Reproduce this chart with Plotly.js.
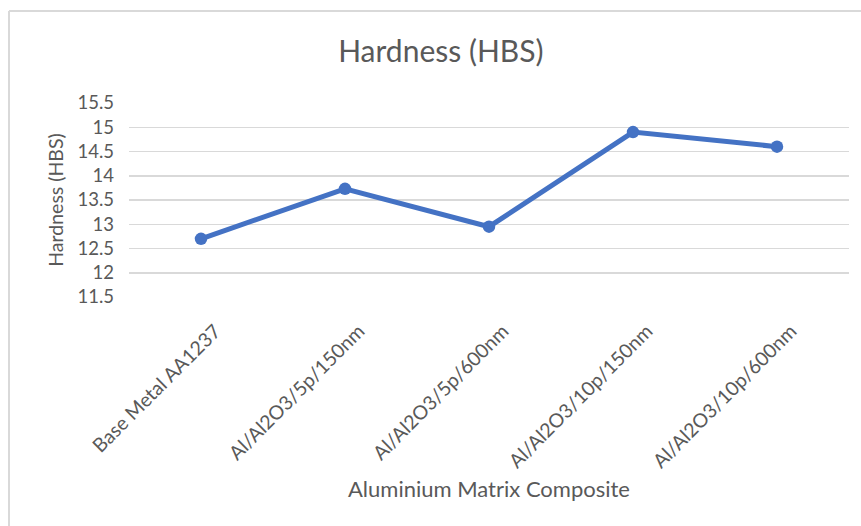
<!DOCTYPE html>
<html>
<head>
<meta charset="utf-8">
<script src="https://cdn.plot.ly/plotly-3.0.1.min.js"></script>
<style>html,body{margin:0;padding:0;background:#fff;}#chart{width:861px;height:526px;}</style>
</head>
<body>
<div id="chart"></div>
<script>
const categories = ["Base Metal AA1237", "Al/Al2O3/5p/150nm", "Al/Al2O3/5p/600nm", "Al/Al2O3/10p/150nm", "Al/Al2O3/10p/600nm"];
const hardness = [12.7, 13.73, 12.95, 14.9, 14.6];
const yTicks = [11.5, 12, 12.5, 13, 13.5, 14, 14.5, 15, 15.5];
const yTickText = ["11.5", "12", "12.5", "13", "13.5", "14", "14.5", "15", "15.5"];

const fontFam = "Lato, 'Open Sans', 'Liberation Sans', sans-serif";
const textColor = "#595959";

const trace = {
  x: categories,
  y: hardness,
  type: "scatter",
  mode: "lines+markers",
  line: {color: "#4472C4", width: 5},
  marker: {color: "#4472C4", size: 12.5},
  hoverinfo: "x+y"
};

const layout = {
  width: 861,
  height: 526,
  paper_bgcolor: "#ffffff",
  plot_bgcolor: "#ffffff",
  margin: {l: 129, r: 12, t: 103, b: 229},
  showlegend: false,
  title: {
    text: "Hardness (HBS)",
    font: {family: fontFam, size: 30, color: textColor},
    x: 0.512, xanchor: "center",
    y: 0.903, yanchor: "middle"
  },
  xaxis: {
    type: "category",
    range: [-0.5, 4.5],
    tickangle: -45,
    tickfont: {family: fontFam, size: 19.5, color: textColor},
    ticklabelstandoff: 18,
    ticklabelshift: 14,
    showgrid: false,
    showline: false,
    zeroline: false,
    ticks: "",
    title: {
      text: "Aluminium Matrix Composite",
      font: {family: fontFam, size: 22, color: textColor},
      standoff: 10
    }
  },
  yaxis: {
    range: [11.5, 15.5],
    tickvals: yTicks,
    ticktext: yTickText,
    tickfont: {family: fontFam, size: 18.5, color: textColor},
    ticklabelstandoff: 14,
    showgrid: true,
    gridcolor: "#d9d9d9",
    gridwidth: 1.5,
    zeroline: false,
    showline: false,
    ticks: "",
    title: {
      text: "Hardness (HBS)",
      font: {family: fontFam, size: 19.5, color: textColor},
      standoff: 8
    }
  }
};

// Chart-area frame (left and top edges), expressed as paper fractions of the plot area
const plotW = 861 - 129 - 12, plotH = 526 - 103 - 229;
const px = v => (v - 129) / plotW;
const py = v => (526 - 229 - v) / plotH;
layout.shapes = [
  {type: "line", xref: "paper", yref: "paper", x0: px(9), x1: px(9), y0: py(11), y1: py(530),
   line: {color: "#d9d9d9", width: 2}},
  {type: "line", xref: "paper", yref: "paper", x0: px(9), x1: px(870), y0: py(11), y1: py(11),
   line: {color: "#d9d9d9", width: 2}}
];

Plotly.newPlot("chart", [trace], layout, {displayModeBar: false, staticPlot: true});
</script>
</body>
</html>
